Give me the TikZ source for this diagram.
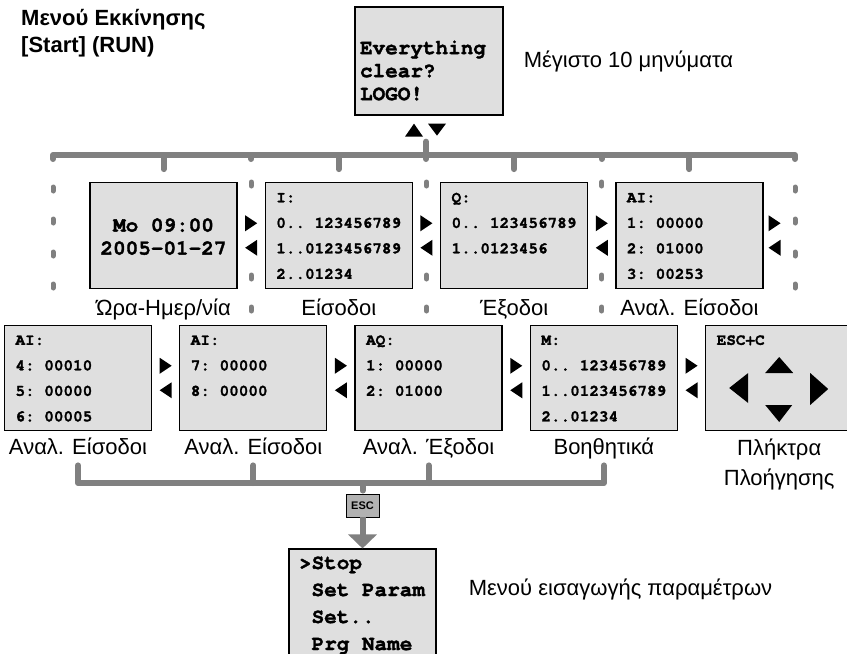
\documentclass[tikz,border=0pt]{standalone}
\usepackage{fontspec}
\setmainfont{Liberation Sans}
\usetikzlibrary{positioning,calc,arrows.meta}

% Courier bold for the screen texts, \cell = one empty character cell
\newfontfamily\lcdfont[FakeBold=1.6]{texgyrecursor-bold.otf}
\newcommand\cell{\phantom{0}}

\begin{document}
\begin{tikzpicture}[
  x=1pt, y=-1pt,
  every node/.style={inner sep=0pt},
  scr/.style={
    rectangle, draw=black, line width=1.3pt,
    fill=gray!25,
    minimum width=147pt, minimum height=105.5pt,
    text width=125pt, align=left,
    font=\lcdfont\fontsize{16}{25.5}\selectfont,
  },
  scrbig/.style={scr, text width=127pt,
    font=\lcdfont\fontsize{21}{23}\selectfont},
  escbox/.style={draw=black, line width=0.9pt, fill=gray!60,
    minimum width=33pt, minimum height=23pt,
    font=\bfseries\fontsize{11}{12}\selectfont},
  bus/.style={draw=gray, line width=6pt, line cap=round, line join=round},
  sepdot/.style={draw=gray, line width=5pt, line cap=round},
  lbl/.style={anchor=base, align=center, font=\fontsize{22}{30}\selectfont},
  side/.style={font=\fontsize{22}{26}\selectfont},
  nav/.pic={
    \fill (-6,-20.25) -- (6,-12.25) -- (-6,-4.25) -- cycle;
    \fill (6,4.25) -- (-6,12.25) -- (6,20.25) -- cycle;
  },
]
\useasboundingbox (0,0) rectangle (847,654);
\clip (0,0) rectangle (847,654);

\def\gap{27pt}

% ----- start screen and title -----
\node[anchor=base west, align=left, font=\bfseries\fontsize{22}{27}\selectfont]
  (title) at (21,52) {Μενού Εκκίνησης\\{}[Start] (RUN)};

\node[scrbig, minimum width=148pt, minimum height=108pt, text width=138pt]
  (msg) at (429,61)
  {\strut\\\strut Everything\\\strut clear?\\\strut LOGO!};
\node[side, right=20pt of msg] (msgnote) {Μέγιστο 10 μηνύματα};

% up / down keys below the start screen
\begin{scope}[shift={(msg.south)}]
  \fill (-24,21) -- (-15,8) -- (-6,21) -- cycle;
  \fill (-1,8) -- (17,8) -- (8,20) -- cycle;
\end{scope}

% ----- first row of screens -----
\node[scrbig, align=center] (A) at (163.5,235.5)
  {\strut\raisebox{-3pt}{Mo\cell 09:00}\\\strut\raisebox{-3pt}{2005-01-27}};
\node[scr, right=\gap of A] (B)
  {\strut I:\\\strut 0..\cell 123456789\\\strut 1..0123456789\\\strut 2..01234};
\node[scr, right=\gap of B] (C)
  {\strut Q:\\\strut 0..\cell 123456789\\\strut 1..0123456\\\strut};
\node[scr, right=\gap of C] (D)
  {\strut AI:\\\strut 1:\cell 00000\\\strut 2:\cell 01000\\\strut 3:\cell 00253};

\node[lbl] (lA) at ([yshift=-27pt]A.south) {Ώρα-Ημερ/νία};
\node[lbl] (lB) at ([yshift=-27pt]B.south) {Είσοδοι};
\node[lbl] (lC) at ([yshift=-27pt]C.south) {Έξοδοι};
\node[lbl] (lD) at ([yshift=-27pt]D.south) {Αναλ. Είσοδοι};

% ----- second row of screens -----
\node[scr] (E) at (78,378)
  {\strut AI:\\\strut 4:\cell 00010\\\strut 5:\cell 00000\\\strut 6:\cell 00005};
\node[scr, right=\gap of E] (F)
  {\strut AI:\\\strut 7:\cell 00000\\\strut 8:\cell 00000\\\strut};
\node[scr, right=\gap of F] (G)
  {\strut AQ:\\\strut 1:\cell 00000\\\strut 2:\cell 01000\\\strut};
\node[scr, right=\gap of G] (H)
  {\strut M:\\\strut 0..\cell 123456789\\\strut 1..0123456789\\\strut 2..01234};
\node[scr, right=\gap of H] (I)
  {\strut ESC+C\\\strut\\\strut\\\strut};

% cursor keys inside the ESC+C screen
\begin{scope}[shift={(I.center)}]
  \fill (-14,-5) -- (0,-21) -- (14,-5) -- cycle;
  \fill (-14,27) -- (13,27) -- (0,44) -- cycle;
  \fill (-31,-5) -- (-50,10) -- (-31,25) -- cycle;
  \fill (31,-5) -- (49,11) -- (31,27) -- cycle;
\end{scope}

\node[lbl] (lE) at ([yshift=-23pt]E.south) {Αναλ. Είσοδοι};
\node[lbl] (lF) at ([yshift=-23pt]F.south) {Αναλ. Είσοδοι};
\node[lbl] (lG) at ([yshift=-23pt]G.south) {Αναλ. Έξοδοι};
\node[lbl] (lH) at ([yshift=-23pt]H.south) {Βοηθητικά};
% base of a two-line node is its last line
\node[lbl] (lI) at ([yshift=-54pt]I.south) {Πλήκτρα\\Πλοήγησης};

% ----- left / right keys between the screens -----
\foreach \a/\b in {A/B,B/C,C/D,E/F,F/G,G/H,H/I}
  \pic at ($(\a.east)!.5!(\b.west)$) {nav};
\pic at ([xshift=11pt]D.east) {nav};

% ----- top bus -----
\coordinate (tl) at (53,155);
\coordinate (tr) at (795,155);
\coordinate (s1) at ($(A.east)!.5!(B.west)$);
\coordinate (s2) at ($(B.east)!.5!(C.west)$);
\coordinate (s3) at ($(C.east)!.5!(D.west)$);
\coordinate (mx) at ([xshift=-3pt,yshift=-26pt]msg.south);

\draw[bus] ([yshift=-4pt]tl) -- (tl) -- (tr) -- ([yshift=-4pt]tr);
\draw[bus] (mx) -- (mx |- tl) -- ++(0,4);
\foreach \s in {s1,s3}
  \draw[bus] (\s |- tl) -- ++(0,4);
\foreach \n in {A,B,C,D}
  \draw[bus] (\n.north |- tl) -- ([yshift=13pt]\n.north);

% dotted separators
\foreach \s in {tl,tr}
  \foreach \y in {189,221,254,286}
    \draw[sepdot] (\s |- 0,\y) ++(0,-2) -- ++(0,4);
\foreach \s in {s1,s2,s3}
  \foreach \y in {184,277,309}
    \draw[sepdot] (\s |- 0,\y) ++(0,-2) -- ++(0,4);

% ----- bottom bus, ESC and parameter menu -----
\coordinate (bb) at (0,483);
\node[escbox] (esc) at (362.5,505.5) {ESC};
\node[scrbig, anchor=north, minimum height=110pt,
  font=\lcdfont\fontsize{21}{27}\selectfont,
  below=31pt of esc] (menu)
  {\strut>Stop\\\strut\cell Set\cell Param\\\strut\cell Set..\\\strut\cell Prg\cell Name};
\node[side, anchor=base west] (menunote)
  at ([xshift=32pt,yshift=-47pt]menu.north east) {Μενού εισαγωγής παραμέτρων};

\draw[bus] ([yshift=-34pt]E.south) -- (E.south |- bb) -- (H.south |- bb)
  -- ([yshift=-34pt]H.south);
\foreach \n in {F,G}
  \draw[bus] ([yshift=-34pt]\n.south) -- (\n.south |- bb);
\draw[bus] (esc.north |- bb) -- ([yshift=3pt]esc.north);
\draw[bus, line cap=butt, -{Triangle[width=28pt,length=14pt]}]
  (esc.south) -- (menu.north);

\end{tikzpicture}
\end{document}
